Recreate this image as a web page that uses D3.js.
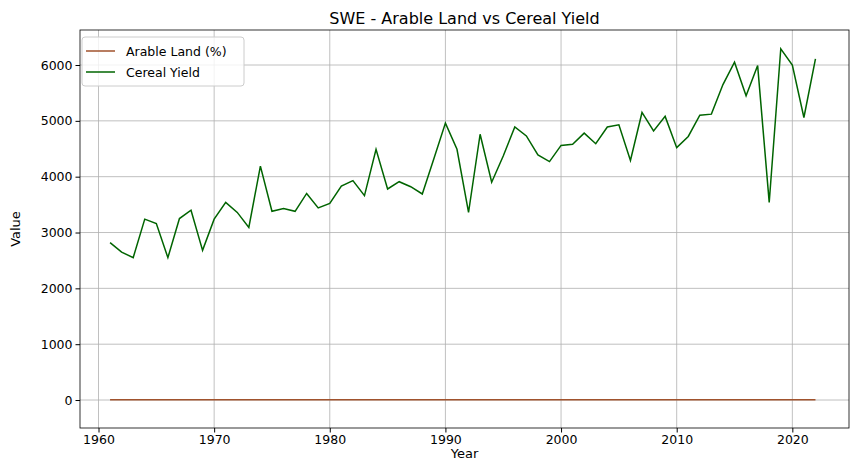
<!DOCTYPE html>
<html><head><meta charset="utf-8">
<script src="https://cdn.jsdelivr.net/npm/d3@7"></script>
<style>body{margin:0;background:#fff;font-family:"DejaVu Sans",sans-serif;}</style>
</head><body>
<script>
var years = d3.range(1961, 2023);
var cerealYield = [2820,2650,2550,3240,3160,2550,3250,3400,2680,3240,3540,3360,3090,4190,3380,3430,3380,3700,3440,3520,
  3830,3930,3660,4490,3780,3910,3820,3690,4320,4960,4490,3360,4760,3900,4370,4890,4730,4390,4270,4560,
  4580,4780,4590,4890,4930,4290,5150,4820,5080,4520,4720,5100,5120,5650,6050,5450,5990,3540,6290,6000,5060,6110];
var arableLand = years.map(function(){ return 6.2; });
var xTicks = [1960,1970,1980,1990,2000,2010,2020];
var yTicks = [0,1000,2000,3000,4000,5000,6000];

var L = 80, R = 849, T = 30, B = 428;
var svg = d3.select('body').append('svg').attr('width', 859).attr('height', 470);
var x = d3.scaleLinear().domain([1958.4, 2024.9]).range([L, R]);
var y = d3.scaleLinear().domain([-501, 6627]).range([B, T]);

// grid
svg.append('g').selectAll('line').data(xTicks).join('line')
  .attr('x1', d => x(d)).attr('x2', d => x(d)).attr('y1', T).attr('y2', B)
  .attr('stroke', '#b0b0b0').attr('stroke-width', 0.8);
svg.append('g').selectAll('line').data(yTicks).join('line')
  .attr('x1', L).attr('x2', R).attr('y1', d => y(d)).attr('y2', d => y(d))
  .attr('stroke', '#b0b0b0').attr('stroke-width', 0.8);

var line = function(vals){ return d3.line().x((d, i) => x(years[i])).y(d => y(d))(vals); };
svg.append('path').attr('d', line(arableLand)).attr('fill', 'none').attr('stroke', '#a0522d').attr('stroke-width', 1.5);
svg.append('path').attr('d', line(cerealYield)).attr('fill', 'none').attr('stroke', '#006400').attr('stroke-width', 1.5);

// axes
var xa = svg.append('g').attr('transform', 'translate(0,' + B + ')')
  .call(d3.axisBottom(x).tickValues(xTicks).tickFormat(d3.format('d')).tickSize(4.5).tickPadding(3));
var ya = svg.append('g').attr('transform', 'translate(' + L + ',0)')
  .call(d3.axisLeft(y).tickValues(yTicks).tickFormat(d3.format('d')).tickSize(4.5).tickPadding(3));
[xa, ya].forEach(function(a){
  a.select('.domain').remove();
  a.selectAll('text').attr('font-size', 12.5).attr('font-family', 'DejaVu Sans').attr('fill', '#000');
  a.selectAll('line').attr('stroke', '#000');
});
svg.append('rect').attr('x', L).attr('y', T).attr('width', R - L).attr('height', B - T)
  .attr('fill', 'none').attr('stroke', '#000').attr('stroke-width', 0.8);

svg.append('text').attr('x', (L + R) / 2).attr('y', 24).attr('text-anchor', 'middle').attr('font-size', 16).text('SWE - Arable Land vs Cereal Yield');
svg.append('text').attr('x', (L + R) / 2).attr('y', 458).attr('text-anchor', 'middle').attr('font-size', 13).text('Year');
svg.append('text').attr('transform', 'translate(20,' + (T + B) / 2 + ') rotate(-90)').attr('text-anchor', 'middle').attr('font-size', 13).text('Value');

// legend
var lg = svg.append('g');
lg.append('rect').attr('x', 82).attr('y', 37).attr('width', 162).attr('height', 49).attr('rx', 3)
  .attr('fill', '#fff').attr('fill-opacity', 0.8).attr('stroke', '#ccc');
var items = [['Arable Land (%)', '#a0522d'], ['Cereal Yield', '#006400']];
items.forEach(function(it, i){
  var yy = 51 + i * 21;
  lg.append('line').attr('x1', 86).attr('x2', 115).attr('y1', yy).attr('y2', yy).attr('stroke', it[1]).attr('stroke-width', 1.5);
  lg.append('text').attr('x', 126).attr('y', yy + 4.5).attr('font-size', 12.5).text(it[0]);
});
</script>
</body></html>
